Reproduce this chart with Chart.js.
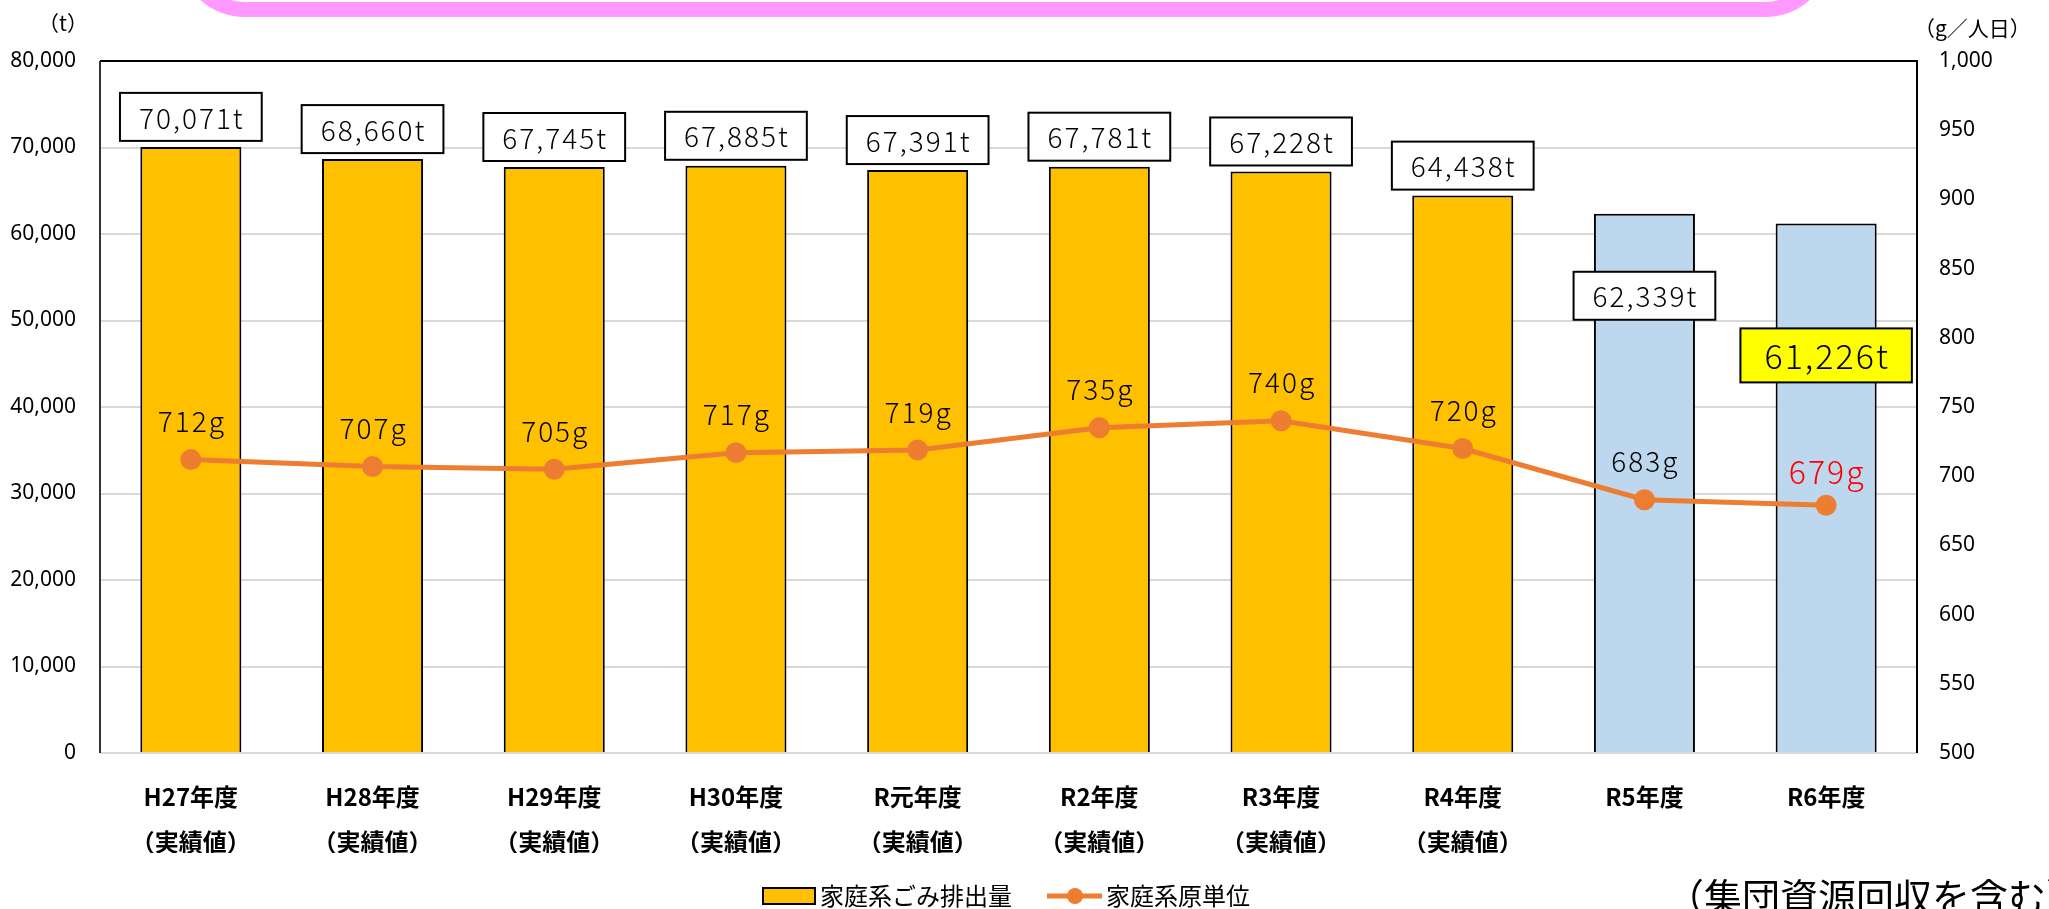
<!DOCTYPE html>
<html>
<head>
<meta charset="utf-8">
<script src="https://cdn.jsdelivr.net/npm/chart.js@4/dist/chart.umd.min.js"></script>
<style>
html, body { margin: 0; padding: 0; background: #fff; overflow: hidden; }
#wrap { position: relative; width: 2049px; height: 909px; }
#pink { position: absolute; left: 177px; top: -120px; width: 1656px; height: 137px; box-sizing: border-box;
        border: 15px solid #ff99ff; border-radius: 72px; }
.unit { position: absolute; font-family: "Noto Sans CJK JP"; font-size: 21px; color: #000; line-height: 1; }
#note { position: absolute; left: 1666px; top: 876px; font-family: "Noto Sans CJK JP"; font-size: 38px;
        color: #000; line-height: 1; white-space: nowrap; }
canvas { position: absolute; left: 0; top: 0; }
</style>
</head>
<body>
<div id="wrap">
  <canvas id="wasteChart" width="2049" height="909"></canvas>
  <div id="pink"></div>
  <div class="unit" style="left:38px;top:12px;">（t）</div>
  <div class="unit" style="left:1914px;top:17px;">（g／人日）</div>
  <div id="note">（集団資源回収を含む）</div>
</div>
<script>
"use strict";

// 年度 (R5, R6 are estimates)
var categories = [
    ['H27年度', '（実績値）'], ['H28年度', '（実績値）'], ['H29年度', '（実績値）'],
    ['H30年度', '（実績値）'], ['R元年度', '（実績値）'], ['R2年度', '（実績値）'],
    ['R3年度', '（実績値）'], ['R4年度', '（実績値）'], 'R5年度', 'R6年度'
];
// 家庭系ごみ排出量 (t)
var householdWaste = [70071, 68660, 67745, 67885, 67391, 67781, 67228, 64438, 62339, 61226];
// 家庭系原単位 (g/人日)
var perCapita = [712, 707, 705, 717, 719, 735, 740, 720, 683, 679];
var leftTicks = [0, 80000, 10000];
var rightTicks = [500, 1000, 50];

var YELLOW = '#FFC000', BLUE = '#BDD7EE', ORANGE = '#ED7D31';
var LABEL_FONT = '"Noto Sans CJK JP", sans-serif';

var barColors = categories.map(function (c) { return Array.isArray(c) ? YELLOW : BLUE; });

function fmt(v) { return Number(v).toLocaleString('en-US'); }

var frame = {
    id: 'frame',
    afterDatasetsDraw: function (chart) {
        var a = chart.chartArea, c = chart.ctx;
        c.save();
        c.lineWidth = 2;
        c.strokeStyle = '#000';
        c.beginPath();
        c.moveTo(a.left, a.top); c.lineTo(a.right, a.top); c.lineTo(a.right, a.bottom);
        c.stroke();
        c.strokeStyle = '#333';
        c.beginPath();
        c.moveTo(a.left, a.top); c.lineTo(a.left, a.bottom);
        c.stroke();
        c.restore();
    }
};

var valueLabels = {
    id: 'valueLabels',
    afterDatasetsDraw: function (chart, args, opts) {
        var c = chart.ctx;
        var bars = chart.getDatasetMeta(1).data;
        var pts = chart.getDatasetMeta(0).data;
        c.save();
        c.textAlign = 'center';
        c.textBaseline = 'middle';
        c.letterSpacing = '2px';
        bars.forEach(function (bar, i) {
            var big = i === opts.highlight;
            var size = big ? 34 : 28;
            c.font = '300 ' + size + 'px ' + LABEL_FONT;
            var txt = fmt(householdWaste[i]) + 't';
            var tw = c.measureText(txt).width;
            var w = tw + (big ? 46 : 36);
            var h = big ? 54 : 48;
            var top = opts.boxShift[i] != null ? bar.y + opts.boxShift[i] : bar.y - 6 - h;
            c.fillStyle = big ? '#FFFF00' : '#fff';
            c.fillRect(bar.x - w / 2, top, w, h);
            c.lineWidth = 2;
            c.strokeStyle = '#000';
            c.strokeRect(bar.x - w / 2, top, w, h);
            c.fillStyle = '#000';
            c.fillText(txt, bar.x + 1, top + h / 2 + 1);
        });
        pts.forEach(function (p, i) {
            var big = i === opts.highlight;
            c.font = '300 ' + (big ? 32 : 28) + 'px ' + LABEL_FONT;
            c.fillStyle = big ? '#FF0000' : '#000';
            c.fillText(perCapita[i] + 'g', p.x + 1, p.y - (big ? 33 : 38));
        });
        c.restore();
    }
};

var bottomLegend = {
    id: 'bottomLegend',
    afterDraw: function (chart) {
        var c = chart.ctx, y = 896;
        c.save();
        c.fillStyle = YELLOW;
        c.fillRect(763, y - 8, 52, 16);
        c.lineWidth = 2;
        c.strokeStyle = '#000';
        c.strokeRect(763, y - 8, 52, 16);
        c.font = '24px ' + LABEL_FONT;
        c.textBaseline = 'middle';
        c.fillStyle = '#000';
        c.fillText(chart.data.datasets[1].label, 820, y);
        c.strokeStyle = ORANGE;
        c.lineWidth = 5;
        c.beginPath();
        c.moveTo(1047, y); c.lineTo(1102, y);
        c.stroke();
        c.fillStyle = ORANGE;
        c.beginPath();
        c.arc(1075, y, 8, 0, Math.PI * 2);
        c.fill();
        c.fillStyle = '#000';
        c.fillText(chart.data.datasets[0].label, 1106, y);
        c.restore();
    }
};

var ctx = document.getElementById('wasteChart').getContext('2d');
var wasteChart = new Chart(ctx, {
    data: {
        labels: categories,
        datasets: [{
            type: 'line',
            label: '家庭系原単位',
            data: perCapita,
            yAxisID: 'y1',
            borderColor: ORANGE,
            backgroundColor: ORANGE,
            borderWidth: 5,
            pointRadius: 8,
            pointHoverRadius: 8,
            tension: 0,
            order: 0
        }, {
            type: 'bar',
            label: '家庭系ごみ排出量',
            data: householdWaste,
            yAxisID: 'y',
            backgroundColor: barColors,
            borderColor: '#000',
            borderWidth: 2,
            barPercentage: 0.556,
            categoryPercentage: 1,
            order: 1
        }]
    },
    options: {
        responsive: false,
        animation: false,
        layout: { padding: { top: 61, left: 0, right: 0, bottom: 56 } },
        plugins: {
            legend: { display: false },
            tooltip: { enabled: false },
            valueLabels: { highlight: 9, boxShift: { 8: 58, 9: 105 } }
        },
        scales: {
            x: {
                grid: { display: false },
                border: { display: false },
                ticks: {
                    color: '#000',
                    font: { family: LABEL_FONT, size: 24, weight: 'bold', lineHeight: 1.85 },
                    padding: 14,
                    maxRotation: 0,
                    autoSkip: false
                },
                afterFit: function (s) { s.height = 100; }
            },
            y: {
                position: 'left',
                min: leftTicks[0],
                max: leftTicks[1],
                grid: { color: '#d9d9d9', lineWidth: 2, drawTicks: false },
                border: { display: false },
                ticks: {
                    stepSize: leftTicks[2],
                    color: '#000',
                    padding: 24,
                    font: { family: '"Noto Sans"', size: 21 },
                    callback: fmt
                },
                afterFit: function (s) { s.width = 100; }
            },
            y1: {
                position: 'right',
                min: rightTicks[0],
                max: rightTicks[1],
                grid: { display: false, drawTicks: false },
                border: { display: false },
                ticks: {
                    stepSize: rightTicks[2],
                    color: '#000',
                    padding: 22,
                    font: { family: '"Noto Sans"', size: 21 },
                    callback: fmt
                },
                afterFit: function (s) { s.width = 132; }
            }
        }
    },
    plugins: [frame, valueLabels, bottomLegend]
});
</script>
</body>
</html>
